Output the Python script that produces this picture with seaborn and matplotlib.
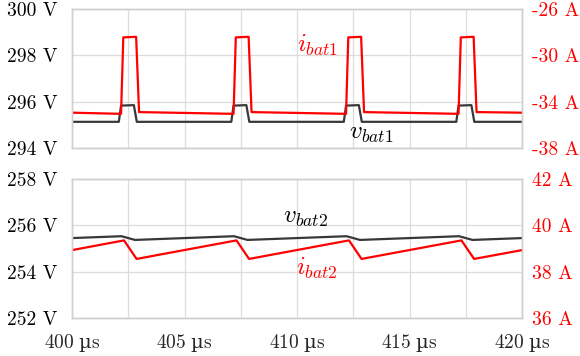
import matplotlib
matplotlib.use("Agg")
import matplotlib.pyplot as plt
import seaborn as sns
import pandas as pd
from matplotlib.ticker import MultipleLocator, FixedLocator

# ---------------- data ----------------
t_ibat1 = [400, 402.18, 402.28, 402.85, 402.98, 407.18, 407.28, 407.85, 407.98,
           412.18, 412.28, 412.85, 412.98, 417.18, 417.28, 417.85, 417.98, 420]
i_bat1 = [-34.95, -35.05, -28.45, -28.40, -34.90, -35.05, -28.45, -28.40, -34.90,
          -35.05, -28.45, -28.40, -34.90, -35.05, -28.45, -28.40, -34.90, -34.95]

t_vbat1 = [400, 402.08, 402.18, 402.75, 402.88, 407.08, 407.18, 407.75, 407.88,
           412.08, 412.18, 412.75, 412.88, 417.08, 417.18, 417.75, 417.88, 420]
v_bat1 = [295.13, 295.13, 295.83, 295.85, 295.13, 295.13, 295.83, 295.85, 295.13,
          295.13, 295.83, 295.85, 295.13, 295.13, 295.83, 295.85, 295.13, 295.13]

t_vbat2 = [400, 402.2, 402.8, 407.2, 407.8, 412.2, 412.8, 417.2, 417.8, 420]
v_bat2 = [255.45, 255.53, 255.37, 255.53, 255.37, 255.53, 255.37, 255.53, 255.37, 255.45]

t_ibat2 = [400, 402.31, 402.87, 407.31, 407.87, 412.31, 412.87, 417.31, 417.87, 420]
i_bat2 = [38.93, 39.35, 38.55, 39.35, 38.55, 39.35, 38.55, 39.35, 38.55, 38.93]

x_ticks = [400, 405, 410, 415, 420]
x_labels = [r"$400\ \mathsf{µ}\mathrm{s}$", r"$405\ \mathsf{µ}\mathrm{s}$",
            r"$410\ \mathsf{µ}\mathrm{s}$", r"$415\ \mathsf{µ}\mathrm{s}$",
            r"$420\ \mathsf{µ}\mathrm{s}$"]
v1_ticks = [294, 296, 298, 300]
v1_labels = ["294 V", "296 V", "298 V", "300 V"]
i1_ticks = [-38, -34, -30, -26]
i1_labels = ["-38 A", "-34 A", "-30 A", "-26 A"]
v2_ticks = [252, 254, 256, 258]
v2_labels = ["252 V", "254 V", "256 V", "258 V"]
i2_ticks = [36, 38, 40, 42]
i2_labels = ["36 A", "38 A", "40 A", "42 A"]

# ---------------- style ----------------
sns.set_style("white")
plt.rcParams["mathtext.fontset"] = "custom"
plt.rcParams["mathtext.rm"] = "cmr10"
plt.rcParams["mathtext.it"] = "cmmi10"
plt.rcParams["mathtext.sf"] = "DejaVu Serif"
plt.rcParams["font.family"] = ["cmr10", "DejaVu Serif"]
plt.rcParams["axes.formatter.use_mathtext"] = True

RED = "#ff0000"
BLACK = "#383838"
GRID = "#dcdcdc"
SPINE = "#d0d0d0"
FS = 14

fig = plt.figure(figsize=(5.8, 3.56), dpi=100)
W, H = 580, 356
ax_top = fig.add_axes([72 / W, (H - 148) / H, 450 / W, 139 / H])
ax_bot = fig.add_axes([72 / W, (H - 318) / H, 450 / W, 139 / H])


def style_y(ax, ticks, labels, ylim, color, side):
    ax.set_ylim(*ylim)
    ax.yaxis.set_major_locator(FixedLocator(ticks))
    ax.set_yticklabels(labels)
    ax.tick_params(axis="y", length=0, labelsize=FS, labelcolor=color,
                   pad=10.5 if side == "left" else 7)
    for s in ax.spines.values():
        s.set_color(SPINE)
        s.set_linewidth(1.0)


def setup_x(ax):
    ax.set_xlim(400, 420)
    ax.xaxis.set_major_locator(FixedLocator(x_ticks))
    ax.xaxis.set_minor_locator(MultipleLocator(2.5))
    ax.grid(True, which="both", axis="x", color=GRID, lw=0.9)
    ax.grid(True, which="major", axis="y", color=GRID, lw=0.9)
    ax.tick_params(axis="x", which="both", length=0, labelsize=FS, pad=10)


def label(ax, x, y, s, color):
    ax.text(x, y, s, color=color, fontsize=18, ha="center", va="center",
            math_fontfamily="cm")


# ---------------- top panel ----------------
setup_x(ax_top)
style_y(ax_top, v1_ticks, v1_labels, (294, 300), "black", "left")
ax_top2 = ax_top.twinx()
style_y(ax_top2, i1_ticks, i1_labels, (-38, -26), RED, "right")
ax_top2.grid(False)

sns.lineplot(data=pd.DataFrame({"t": t_ibat1, "i": i_bat1}), x="t", y="i",
             ax=ax_top2, color=RED, lw=1.6)
sns.lineplot(data=pd.DataFrame({"t": t_vbat1, "v": v_bat1}), x="t", y="v",
             ax=ax_top, color=BLACK, lw=1.6)
for a in (ax_top, ax_top2):
    a.set_xlabel("")
    a.set_ylabel("")
ax_top.set_xlim(400, 420)
ax_top.set_xticklabels([])

label(ax_top2, 410.9, -29.1, r"$i_{\mathit{bat1}}$", RED)
label(ax_top, 413.3, 294.6, r"$v_{\mathit{bat1}}$", "black")

# ---------------- bottom panel ----------------
setup_x(ax_bot)
style_y(ax_bot, v2_ticks, v2_labels, (252, 258), "black", "left")
ax_bot2 = ax_bot.twinx()
style_y(ax_bot2, i2_ticks, i2_labels, (36, 42), RED, "right")
ax_bot2.grid(False)

sns.lineplot(data=pd.DataFrame({"t": t_ibat2, "i": i_bat2}), x="t", y="i",
             ax=ax_bot2, color=RED, lw=1.6)
sns.lineplot(data=pd.DataFrame({"t": t_vbat2, "v": v_bat2}), x="t", y="v",
             ax=ax_bot, color=BLACK, lw=1.6)
for a in (ax_bot, ax_bot2):
    a.set_xlabel("")
    a.set_ylabel("")
ax_bot.set_xlim(400, 420)
ax_bot.xaxis.set_major_locator(FixedLocator(x_ticks))
ax_bot.set_xticklabels(x_labels)

label(ax_bot, 410.4, 256.3, r"$v_{\mathit{bat2}}$", "black")
label(ax_bot2, 410.9, 38.15, r"$i_{\mathit{bat2}}$", RED)

fig.savefig("out.png", dpi=100)
